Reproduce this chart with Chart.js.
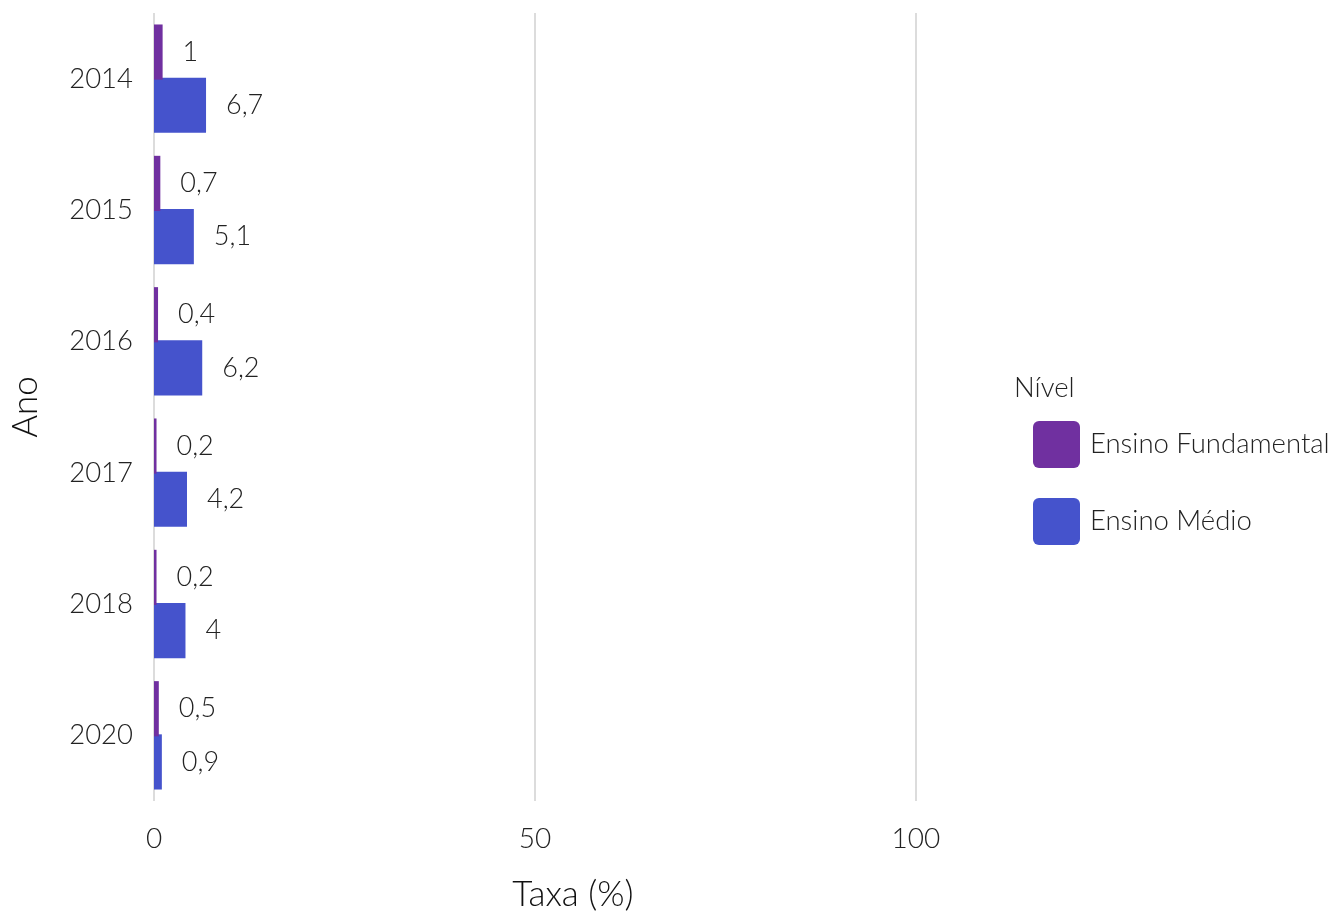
<!DOCTYPE html>
<html>
<head>
<meta charset="utf-8">
<script src="https://cdn.jsdelivr.net/npm/chart.js@4"></script>
<style>
  html, body { margin: 0; padding: 0; background: #fff; }
  #wrap { width: 1334px; height: 912px; }
</style>
</head>
<body>
<div id="wrap"><canvas id="grafico"></canvas></div>
<script>
// Dados
const anos = ['2014', '2015', '2016', '2017', '2018', '2020'];
const fundamental = [1, 0.7, 0.4, 0.2, 0.2, 0.5];
const medio = [6.7, 5.1, 6.2, 4.2, 4, 0.9];
const ticksX = [0, 50, 100];

const corFundamental = 'rgb(112, 48, 160)';
const corMedio = 'rgb(69, 83, 204)';
const fonte = 'Lato, "Open Sans", sans-serif';

// rótulos no fim das barras
const rotulos = {
    id: 'rotulos',
    afterDatasetsDraw(chart) {
        const ctx = chart.ctx;
        ctx.save();
        ctx.font = '300 27px ' + fonte;
        ctx.fillStyle = '#222';
        ctx.textAlign = 'left';
        ctx.textBaseline = 'middle';
        chart.data.datasets.forEach((ds, i) => {
            chart.getDatasetMeta(i).data.forEach((el, j) => {
                const txt = String(ds.data[j]).replace('.', ',');
                ctx.fillText(txt, el.x + 21, el.y);
            });
        });
        ctx.restore();
    }
};

// legenda à direita
const legenda = {
    id: 'legenda',
    afterDraw(chart) {
        const ctx = chart.ctx;
        ctx.save();
        ctx.font = '300 27.5px ' + fonte;
        ctx.fillStyle = '#222';
        ctx.textAlign = 'left';
        ctx.textBaseline = 'middle';
        ctx.fillText('Nível', 1014, 388);
        chart.data.datasets.forEach((ds, i) => {
            const y = 421 + i * 77;
            ctx.fillStyle = ds.backgroundColor;
            ctx.beginPath();
            ctx.roundRect(1033, y, 47, 47, 6);
            ctx.fill();
            ctx.fillStyle = '#222';
            ctx.fillText(ds.label, 1090, y + 23);
        });
        ctx.restore();
    }
};

const data = {
    labels: anos,
    datasets: [{
        label: 'Ensino Fundamental',
        data: fundamental,
        backgroundColor: corFundamental
    }, {
        label: 'Ensino Médio',
        data: medio,
        backgroundColor: corMedio
    }]
};

const config = {
    type: 'bar',
    data: data,
    plugins: [rotulos, legenda],
    options: {
        indexAxis: 'y',
        responsive: true,
        maintainAspectRatio: false,
        animation: false,
        layout: { padding: { top: 13, right: 342, bottom: 0, left: 0 } },
        datasets: {
            bar: { categoryPercentage: 0.81, barPercentage: 1, inflateAmount: 1 }
        },
        scales: {
            x: {
                min: 0,
                max: 110,
                afterBuildTicks(scale) {
                    scale.ticks = ticksX.map(v => ({ value: v }));
                },
                afterFit(scale) {
                    scale.height = 111;
                    scale.paddingLeft = 0;
                    scale.paddingRight = 0;
                },
                grid: { color: '#dcdcdc', lineWidth: 2, drawTicks: false },
                border: { display: false },
                ticks: {
                    padding: 21,
                    color: '#222',
                    font: { family: fonte, size: 28, weight: 300 }
                },
                title: {
                    display: true,
                    text: 'Taxa (%)',
                    color: '#111',
                    padding: 0,
                    font: { family: fonte, size: 35, weight: 300, lineHeight: 1 }
                }
            },
            y: {
                afterFit(scale) {
                    scale.width = 154;
                    scale.paddingTop = 0;
                    scale.paddingBottom = 0;
                },
                grid: { display: false, drawTicks: false },
                border: { display: false },
                ticks: {
                    padding: 21,
                    color: '#222',
                    font: { family: fonte, size: 27.5, weight: 300 }
                },
                title: {
                    display: true,
                    text: 'Ano',
                    color: '#111',
                    padding: { top: 8, bottom: 0 },
                    font: { family: fonte, size: 35, weight: 300, lineHeight: 1 }
                }
            }
        },
        plugins: {
            legend: { display: false },
            tooltip: { enabled: false }
        }
    }
};

new Chart(document.getElementById('grafico'), config);
</script>
</body>
</html>
